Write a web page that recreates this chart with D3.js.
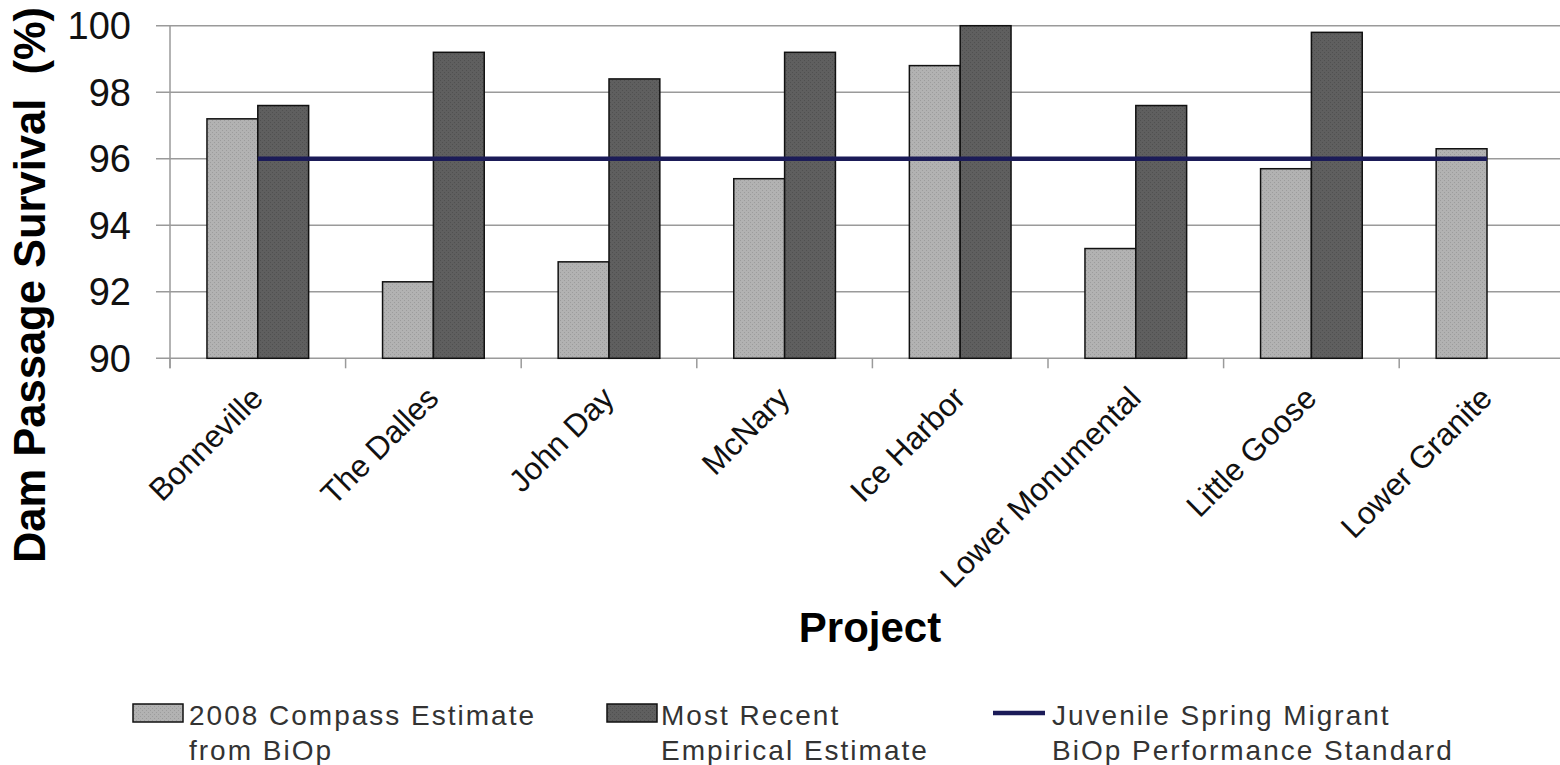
<!DOCTYPE html>
<html>
<head>
<meta charset="utf-8">
<script src="https://cdn.jsdelivr.net/npm/d3@7"></script>
<style>
  html, body { margin: 0; padding: 0; background: #fff; }
  svg { display: block; }
  text { font-family: "Liberation Sans", Arial, sans-serif; }
</style>
</head>
<body>
<svg id="chart" width="1560" height="765"></svg>
<script>
// ---- data ----
const categories = ["Bonneville", "The Dalles", "John Day", "McNary", "Ice Harbor", "Lower Monumental", "Little Goose", "Lower Granite"];
const compass2008 = [97.2, 92.3, 92.9, 95.4, 98.8, 93.3, 95.7, 96.3];
const empirical = [97.6, 99.2, 98.4, 99.2, 100.0, 97.6, 99.8, null];
const standard = [96, 96, 96, 96, 96, 96, 96, 96];
const yTicks = [90, 92, 94, 96, 98, 100];
const seriesNames = ["2008 Compass Estimate", "Most Recent", "Juvenile Spring Migrant"];
const seriesNames2 = ["from BiOp", "Empirical Estimate", "BiOp Performance Standard"];

// ---- layout ----
const svg = d3.select("#chart");
const plotLeft = 170, plotTop = 25.7, plotBottom = 358.3;
const catW = 175.6;
const plotRight = plotLeft + categories.length * catW;

const x = d3.scaleBand().domain(categories).range([plotLeft, plotRight]).paddingInner(0).paddingOuter(0);
const barW = catW * 0.2895;
const y = d3.scaleLinear().domain([90, 100]).range([plotBottom, plotTop]);

const gridColor = "#9a9a9a";
const lightFill = "#b2b2b2";
const darkFill = "#5f5f5f";
const lineColor = "#1b1b58";

// stipple patterns to mimic the textured fills
const defs = svg.append("defs");
function stipple(id, base, dot) {
  const p = defs.append("pattern").attr("id", id).attr("patternUnits", "userSpaceOnUse")
    .attr("width", 4).attr("height", 4);
  p.append("rect").attr("width", 4).attr("height", 4).attr("fill", base);
  p.append("rect").attr("x", 0).attr("y", 0).attr("width", 1).attr("height", 1).attr("fill", dot);
  p.append("rect").attr("x", 2).attr("y", 2).attr("width", 1).attr("height", 1).attr("fill", dot);
}
stipple("lightPat", lightFill, "#9c9c9c");
stipple("darkPat", darkFill, "#505050");

// gridlines
svg.append("g").selectAll("line").data(yTicks).join("line")
  .attr("x1", plotLeft - 14).attr("x2", plotRight)
  .attr("y1", d => y(d)).attr("y2", d => y(d))
  .attr("stroke", gridColor).attr("stroke-width", 1.5);

// y axis line
svg.append("line").attr("x1", plotLeft).attr("x2", plotLeft)
  .attr("y1", plotTop).attr("y2", plotBottom + 10)
  .attr("stroke", gridColor).attr("stroke-width", 1.5);

// x ticks at category boundaries
const bounds = d3.range(categories.length + 1).map(i => plotLeft + i * catW);
svg.append("g").selectAll("line").data(bounds).join("line")
  .attr("x1", d => d).attr("x2", d => d)
  .attr("y1", plotBottom).attr("y2", plotBottom + 10)
  .attr("stroke", gridColor).attr("stroke-width", 1.5);

// y tick labels
svg.append("g").selectAll("text").data(yTicks).join("text")
  .attr("x", 131).attr("y", d => y(d))
  .attr("dy", "0.36em")
  .attr("text-anchor", "end")
  .attr("font-size", 38)
  .attr("fill", "#111")
  .text(d => d);

// bars
const center = c => x(c) + x.bandwidth() / 2;
svg.append("g").selectAll("rect").data(categories.map((c, i) => ({ c, v: compass2008[i] }))).join("rect")
  .attr("x", d => center(d.c) - barW)
  .attr("width", barW)
  .attr("y", d => y(d.v))
  .attr("height", d => y(90) - y(d.v))
  .attr("fill", "url(#lightPat)").attr("stroke", "#111").attr("stroke-width", 1.5);

svg.append("g").selectAll("rect").data(categories.map((c, i) => ({ c, v: empirical[i] })).filter(d => d.v != null)).join("rect")
  .attr("x", d => center(d.c))
  .attr("width", barW)
  .attr("y", d => y(d.v))
  .attr("height", d => y(90) - y(d.v))
  .attr("fill", "url(#darkPat)").attr("stroke", "#111").attr("stroke-width", 1.5);

// performance standard line
const line = d3.line().x((d, i) => center(categories[i])).y(d => y(d));
svg.append("path").datum(standard)
  .attr("d", line)
  .attr("fill", "none").attr("stroke", lineColor).attr("stroke-width", 4.5);

// x labels rotated
svg.append("g").selectAll("text").data(categories).join("text")
  .attr("transform", d => `translate(${center(d) + 7},${400}) rotate(-45)`)
  .attr("text-anchor", "end")
  .attr("font-size", 31.5)
  .attr("fill", "#111")
  .text(d => d);

// axis titles
svg.append("text")
  .attr("transform", "translate(45,285) rotate(-90)")
  .attr("text-anchor", "middle")
  .attr("font-size", 43.5).attr("font-weight", "bold")
  .attr("fill", "#000")
  .style("white-space", "pre")
  .text("Dam Passage Survival  (%)");

svg.append("text")
  .attr("x", 870).attr("y", 642)
  .attr("text-anchor", "middle")
  .attr("font-size", 42).attr("font-weight", "bold")
  .attr("fill", "#000")
  .text("Project");

// legend
const legX = [133, 607, 993];
const legTextX = [189, 661, 1052];
const lg = svg.append("g");
lg.append("rect").attr("x", legX[0]).attr("y", 704).attr("width", 50).attr("height", 18)
  .attr("fill", "url(#lightPat)").attr("stroke", "#111").attr("stroke-width", 1.5);
lg.append("rect").attr("x", legX[1]).attr("y", 704).attr("width", 50).attr("height", 18)
  .attr("fill", "url(#darkPat)").attr("stroke", "#111").attr("stroke-width", 1.5);
lg.append("line").attr("x1", legX[2]).attr("x2", legX[2] + 52).attr("y1", 713).attr("y2", 713)
  .attr("stroke", lineColor).attr("stroke-width", 4.5);

seriesNames.forEach((s, i) => {
  lg.append("text").attr("x", legTextX[i]).attr("y", 725)
    .attr("font-size", 28).attr("fill", "#333").attr("letter-spacing", 2)
    .text(s);
  lg.append("text").attr("x", legTextX[i]).attr("y", 760)
    .attr("font-size", 28).attr("fill", "#333").attr("letter-spacing", 2)
    .text(seriesNames2[i]);
});
</script>
</body>
</html>
